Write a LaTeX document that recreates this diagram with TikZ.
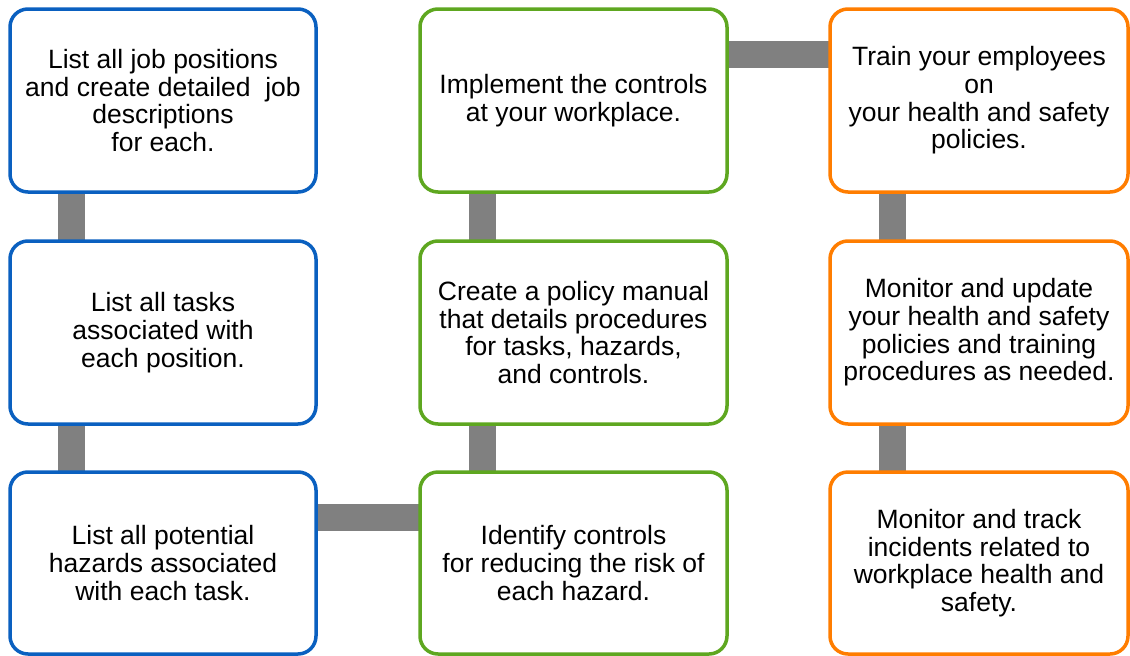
\documentclass[tikz,border=0pt]{standalone}
\usepackage{fontspec}
\setmainfont{Liberation Sans}
\definecolor{bblue}{RGB}{10,96,192}
\definecolor{bgreen}{RGB}{94,167,32}
\definecolor{borange}{RGB}{255,125,0}
\definecolor{cgray}{RGB}{128,128,128}
\pgfdeclarelayer{bg}
\pgfsetlayers{bg,main}
\begin{document}
\begin{tikzpicture}[x=1pt,y=-1pt,
  box/.style={draw, fill=white, rounded corners=18pt, line width=3.5pt, outer sep=0pt,
    align=center, inner sep=0pt, font=\fontsize{26.5}{27.7}\selectfont, text=black},
  bluebox/.style={box, draw=bblue, minimum width=306pt},
  greenbox/.style={box, draw=bgreen, minimum width=307pt},
  orangebox/.style={box, draw=borange, minimum width=298pt},
  rowa/.style={minimum height=183pt},
  rowb/.style={minimum height=183pt},
  rowc/.style={minimum height=182pt},
  conn/.style={draw=cgray, line width=27pt}]
\useasboundingbox (0,0) rectangle (1130,656);
\node[bluebox,rowa] (a1) at (163,100.5) {List all job positions\\and create detailed~ job\\descriptions\\for each.};
\node[bluebox,rowb] (a2) at (163,332.5) {List all tasks\\associated with\\each position.};
\node[bluebox,rowc] (a3) at (163,563) {List all potential\\hazards associated\\with each task.};
\node[greenbox,rowa] (b1) at (573.5,100.5) {Implement the controls\\at your workplace.};
\node[greenbox,rowb] (b2) at (573.5,332.5) {Create a policy manual\\that details procedures\\for tasks, hazards,\\and controls.};
\node[greenbox,rowc] (b3) at (573.5,563) {Identify controls\\for reducing the risk of\\each hazard.};
\node[orangebox,rowa] (c1) at (979,100.5) {Train your employees\\on\\your health and safety\\policies.};
\node[orangebox,rowb] (c2) at (979,332.5) {Monitor and update\\your health and safety\\policies and training\\procedures as needed.};
\node[orangebox,rowc] (c3) at (979,563) {Monitor and track\\incidents related to\\workplace health and\\safety.};
\begin{pgfonlayer}{bg}
\draw[conn] ([xshift=61pt]a1.south west) -- ([xshift=61pt]a2.north west);
\draw[conn] ([xshift=61pt]a2.south west) -- ([xshift=61pt]a3.north west);
\draw[conn] ([yshift=-45pt]a3.north east) -- ([yshift=-45pt]b3.north west);
\draw[conn] ([xshift=62pt]b3.north west) -- ([xshift=62pt]b2.south west);
\draw[conn] ([xshift=62pt]b2.north west) -- ([xshift=62pt]b1.south west);
\draw[conn] ([yshift=-45.5pt]b1.north east) -- ([yshift=-45.5pt]c1.north west);
\draw[conn] ([xshift=62pt]c1.south west) -- ([xshift=62pt]c2.north west);
\draw[conn] ([xshift=62pt]c2.south west) -- ([xshift=62pt]c3.north west);
\end{pgfonlayer}
\end{tikzpicture}
\end{document}
